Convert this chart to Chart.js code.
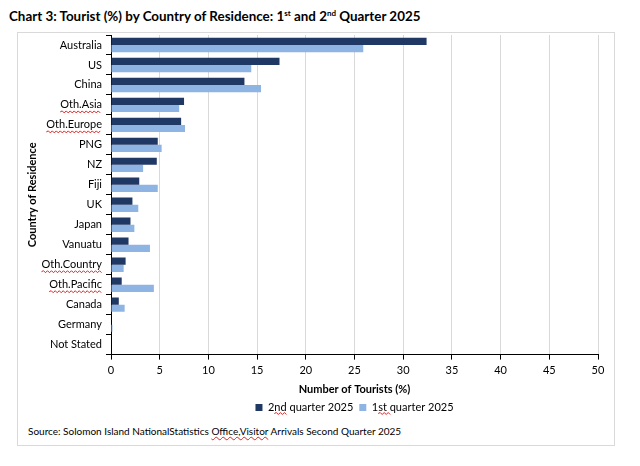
<!DOCTYPE html>
<html>
<head>
<meta charset="utf-8">
<script src="https://cdn.jsdelivr.net/npm/chart.js@4.4.0/dist/chart.umd.min.js"></script>
<style>
    body { margin: 0; background: #fff; font-family: Lato, sans-serif; width: 640px; height: 466px; position: relative; overflow: hidden; }
    #title { position: absolute; left: 9px; top: 8px; font-weight: bold; font-size: 13.4px; color: #000; white-space: nowrap; }
    #title sup { font-size: 8px; }
    #box { position: absolute; left: 17px; top: 32px; width: 596px; height: 412px; border: 1px solid #d9d9d9; }
    #wrap { position: absolute; left: 0; top: 0; width: 596px; height: 390px; }
    #source { position: absolute; left: 10px; top: 392px; font-size: 10px; color: #000; white-space: nowrap; }
    .sq { text-decoration: underline wavy #e02020; text-decoration-thickness: 1px; }
</style>
</head>
<body>
<div id="title">Chart 3: Tourist (%) by Country of Residence: 1<sup>st</sup> and 2<sup>nd</sup> Quarter 2025</div>
<div id="box">
    <div id="wrap"><canvas id="chart"></canvas></div>
    <div id="source">Source: Solomon Island NationalStatistics <span class="sq">Office,Visitor</span> Arrivals Second Quarter 2025</div>
</div>
<script>
// Dados
const countries = ['Australia', 'US', 'China', 'Oth.Asia', 'Oth.Europe', 'PNG', 'NZ', 'Fiji', 'UK', 'Japan', 'Vanuatu', 'Oth.Country', 'Oth.Pacific', 'Canada', 'Germany', 'Not Stated'];
const quarter2 = [32.4, 17.3, 13.7, 7.5, 7.2, 4.8, 4.7, 2.9, 2.2, 2.0, 1.8, 1.5, 1.1, 0.8, 0, 0];
const quarter1 = [25.9, 14.4, 15.4, 7.0, 7.6, 5.2, 3.3, 4.8, 2.8, 2.4, 4.0, 1.3, 4.4, 1.4, 0.15, 0];
const xTicks = [0, 5, 10, 15, 20, 25, 30, 35, 40, 45, 50];

// rótulos com sublinhado ondulado (corretor ortográfico)
const squiggleLabels = ['Oth.Asia', 'Oth.Europe', 'Oth.Country', 'Oth.Pacific'];

const FONT = 'Lato, sans-serif';

function zigzag(ctx, x0, x1, y) {
    ctx.beginPath();
    ctx.moveTo(x0, y);
    let up = true;
    for (let x = x0 + 2; x <= x1; x += 2) {
        ctx.lineTo(x, up ? y - 1 : y + 1);
        up = !up;
    }
    ctx.stroke();
}

// Desenha o sublinhado vermelho sob alguns rótulos do eixo Y e da legenda
const squigglePlugin = {
    id: 'squiggle',
    afterDraw(chart) {
        const scale = chart.scales.y;
        const ctx = chart.ctx;
        ctx.save();
        ctx.font = '11px ' + FONT;
        ctx.strokeStyle = '#e02020';
        ctx.lineWidth = 1;
        const right = scale.right - 5 - 4;
        countries.forEach((label, i) => {
            if (!squiggleLabels.includes(label)) return;
            const w = ctx.measureText(label).width;
            zigzag(ctx, right - w, right, scale.getPixelForTick(i) + 7);
        });
        // "nd" e "st" na legenda
        const legend = chart.legend;
        if (legend && legend.legendHitBoxes) {
            legend.legendHitBoxes.forEach((box) => {
                const start = box.left + 7 + 11 / 2 + ctx.measureText('2').width;
                const w = ctx.measureText('nd').width;
                zigzag(ctx, start, start + w, box.top + box.height / 2 + 6);
            });
        }
        ctx.restore();
    }
};

const ctx = document.getElementById('chart').getContext('2d');
new Chart(ctx, {
    type: 'bar',
    data: {
        labels: countries,
        datasets: [
            {
                label: '2nd quarter 2025',
                data: quarter2,
                backgroundColor: '#1f3864',
                categoryPercentage: 0.72,
                barPercentage: 1.0
            },
            {
                label: '1st quarter 2025',
                data: quarter1,
                backgroundColor: '#8eb4e3',
                categoryPercentage: 0.72,
                barPercentage: 1.0
            }
        ]
    },
    options: {
        indexAxis: 'y',
        responsive: true,
        maintainAspectRatio: false,
        animation: false,
        layout: { padding: { top: 2, right: 16, bottom: 0, left: 8 } },
        scales: {
            x: {
                min: 0,
                max: 50,
                afterBuildTicks: (scale) => { scale.ticks = xTicks.map(v => ({ value: v })); },
                grid: { color: '#d9d9d9', tickColor: '#000', tickLength: 5 },
                border: { color: '#000', width: 1 },
                ticks: { color: '#000', font: { family: FONT, size: 11 }, padding: 4, maxRotation: 0 },
                title: {
                    display: true,
                    text: 'Number of Tourists (%)',
                    color: '#000',
                    font: { family: FONT, size: 11, weight: 'bold' },
                    padding: { top: 2, bottom: 0 }
                }
            },
            y: {
                afterFit: (scale) => {
                    scale.width = 85;
                    scale.paddingTop = 0;
                    scale.paddingBottom = 0;
                },
                grid: { drawOnChartArea: false, color: '#000', tickLength: 5 },
                border: { color: '#000', width: 1 },
                ticks: { color: '#000', font: { family: FONT, size: 11 }, padding: 4, autoSkip: false },
                title: {
                    display: true,
                    text: 'Country of Residence',
                    color: '#000',
                    font: { family: FONT, size: 11, weight: 'bold' },
                    padding: { top: 0, bottom: 4 }
                }
            }
        },
        plugins: {
            legend: {
                position: 'bottom',
                fullSize: false,
                labels: {
                    color: '#000',
                    font: { family: FONT, size: 11 },
                    boxWidth: 7,
                    boxHeight: 7,
                    padding: 6
                }
            },
            tooltip: { enabled: false }
        }
    },
    plugins: [squigglePlugin]
});
</script>
</body>
</html>
